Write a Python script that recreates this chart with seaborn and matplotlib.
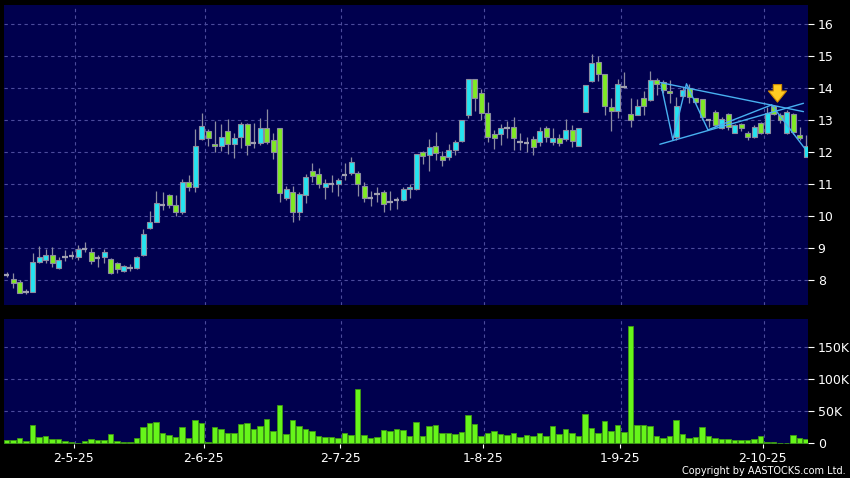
import matplotlib
matplotlib.use("Agg")
import matplotlib.pyplot as plt
import seaborn as sns
import numpy as np

# daily OHLC (one entry per trading day)
opens = [8.18, 8.05, 7.94, 7.65, 7.65, 8.56, 8.63, 8.78, 8.38, 8.73,
         8.77, 8.74, 8.98, 8.88, 8.70, 8.72, 8.66, 8.55, 8.30, 8.40,
         8.38, 8.78, 9.63, 9.83, 10.34, 10.67, 10.35, 10.15, 11.06, 10.90,
         12.40, 12.65, 12.27, 12.19, 12.65, 12.25, 12.47, 12.88, 12.28, 12.28,
         12.77, 12.375, 12.75, 10.58, 10.77, 10.125, 10.67, 11.42, 11.31, 10.90,
         11.00, 11.00, 11.29, 11.34, 11.34, 10.94, 10.58, 10.69, 10.75, 10.46,
         10.51, 10.50, 10.85, 10.85, 12.00, 11.92, 12.20, 11.875, 11.85, 12.06,
         12.35, 13.15, 14.28, 13.84, 13.22, 12.56, 12.58, 12.75, 12.79, 12.32,
         12.30, 12.43, 12.33, 12.77, 12.33, 12.44, 12.43, 12.69, 12.21, 13.27,
         14.24, 14.81, 14.44, 13.42, 13.29, 14.03, 13.19, 13.17, 13.69, 13.625,
         14.25, 14.18, 13.91, 12.49, 13.77, 14.01, 13.69, 13.66, 13.00, 13.27,
         12.75, 13.19, 12.61, 12.875, 12.61, 12.47, 12.90, 12.60, 13.45, 13.15,
         12.60, 13.19, 12.53, 11.86]
highs = [8.25, 8.22, 8.00, 7.72, 8.84, 9.07, 8.97, 9.05, 8.74, 8.95,
         8.93, 9.10, 9.19, 9.00, 8.79, 8.97, 8.69, 8.58, 8.48, 8.50,
         8.76, 9.59, 10.16, 10.79, 10.77, 10.71, 10.67, 11.17, 11.29, 12.73,
         13.23, 12.73, 12.98, 12.88, 13.04, 12.59, 12.94, 12.91, 12.92, 13.06,
         13.35, 12.59, 12.75, 10.95, 10.95, 10.75, 11.31, 11.66, 11.50, 11.17,
         11.29, 11.19, 11.67, 11.85, 11.42, 11.08, 10.79, 10.90, 10.82, 10.79,
         10.60, 10.93, 11.00, 11.94, 12.04, 12.42, 12.625, 12.04, 12.25, 12.385,
         13.00, 14.28, 14.28, 13.98, 13.56, 12.70, 12.875, 12.98, 13.10, 12.59,
         12.49, 12.52, 12.80, 12.83, 12.75, 12.56, 13.04, 12.85, 12.77, 14.10,
         15.06, 15.00, 14.44, 13.71, 14.29, 14.50, 13.69, 13.67, 13.92, 14.54,
         14.31, 14.26, 14.26, 13.74, 14.05, 14.13, 13.70, 13.66, 13.05, 13.32,
         13.11, 13.22, 12.885, 12.93, 12.67, 12.85, 12.95, 13.41, 13.48, 13.22,
         13.32, 13.22, 12.80, 12.54]
lows = [8.09, 7.75, 7.59, 7.56, 7.63, 8.55, 8.55, 8.43, 8.34, 8.61,
        8.67, 8.64, 8.90, 8.51, 8.43, 8.55, 8.20, 8.22, 8.27, 8.30,
        8.36, 8.76, 9.59, 9.81, 10.20, 10.25, 10.00, 10.06, 10.79, 10.77,
        12.38, 12.19, 12.00, 12.04, 11.96, 11.83, 12.13, 11.90, 12.13, 12.23,
        12.25, 11.79, 10.46, 10.51, 9.83, 9.89, 10.41, 11.06, 10.875, 10.54,
        10.75, 10.65, 11.14, 11.29, 10.65, 10.46, 10.33, 10.46, 10.15, 10.20,
        10.23, 10.48, 10.56, 10.83, 11.625, 11.42, 11.76, 11.58, 11.76, 11.92,
        12.33, 13.08, 13.29, 13.01, 12.33, 12.10, 12.23, 12.44, 12.07, 12.07,
        12.00, 11.92, 12.20, 12.33, 12.23, 12.21, 12.35, 12.18, 12.21, 13.27,
        14.21, 14.23, 13.15, 12.67, 13.08, 14.00, 12.80, 13.15, 13.15, 13.60,
        13.79, 13.84, 13.55, 12.39, 13.74, 13.53, 13.55, 13.01, 12.80, 12.80,
        12.72, 12.70, 12.59, 12.68, 12.39, 12.44, 12.57, 12.57, 13.17, 12.90,
        12.57, 12.57, 12.385, 11.84]
closes = [8.18, 7.91, 7.61, 7.65, 8.56, 8.72, 8.78, 8.53, 8.63, 8.73,
          8.77, 8.97, 8.98, 8.59, 8.70, 8.88, 8.22, 8.34, 8.45, 8.40,
          8.73, 9.44, 9.81, 10.43, 10.34, 10.35, 10.15, 11.06, 10.90, 12.19,
          12.83, 12.44, 12.19, 12.49, 12.25, 12.46, 12.88, 12.23, 12.28, 12.77,
          12.31, 12.00, 10.72, 10.84, 10.125, 10.69, 11.23, 11.27, 11.00, 11.03,
          11.00, 11.125, 11.29, 11.71, 11.00, 10.56, 10.58, 10.69, 10.375, 10.46,
          10.51, 10.84, 10.92, 11.94, 11.875, 12.17, 11.97, 11.75, 12.06, 12.33,
          13.00, 14.28, 13.69, 13.22, 12.49, 12.44, 12.75, 12.75, 12.46, 12.32,
          12.30, 12.15, 12.65, 12.49, 12.44, 12.30, 12.69, 12.35, 12.75, 14.10,
          14.78, 14.44, 13.46, 13.28, 14.125, 14.03, 13.00, 13.46, 13.44, 14.25,
          14.125, 13.95, 13.84, 13.46, 13.93, 13.74, 13.56, 13.09, 13.00, 12.85,
          13.04, 12.80, 12.84, 12.75, 12.47, 12.80, 12.60, 13.22, 13.20, 13.01,
          13.27, 12.625, 12.46, 12.21]
# volume in thousands of shares
volumes = [5, 5.6, 8.8, 4.6, 28, 10, 11, 7, 6.7, 4,
           3, 1.5, 4.6, 7, 5.6, 5, 14, 4, 2, 2.5,
           8, 26, 31, 33, 16, 13, 10, 26, 9, 36,
           32, 2, 25, 22, 16, 17, 30, 31, 22, 27,
           38, 19, 59, 15, 36, 27, 22, 20, 11, 10,
           10, 8, 17, 13, 85, 13, 8, 10, 21, 19,
           23, 21, 12, 34, 11, 27, 28, 16, 17, 14,
           18, 44, 30, 11, 17, 19, 14, 13, 17, 10,
           13, 11, 16, 12, 27, 15, 23, 16, 12, 45,
           24, 16, 35, 20, 29, 18, 182, 29, 28, 27,
           12, 9, 11, 37, 14, 9, 10, 25, 11, 8,
           7, 7, 6, 6, 6, 7, 11, 3, 2, 1,
           1.5, 13, 8, 7]
volumes = [v * 1000 for v in volumes]

# month ticks: index of the first trading day of each month
tick_idx = [10, 30, 51, 73, 94, 116]
tick_labels = ["2-5-25", "2-6-25", "2-7-25", "1-8-25", "1-9-25", "2-10-25"]

# hand-drawn trend lines on the chart (day index, price)
trend_lines = [
    ([100.5, 122.6], [14.18, 13.27]),
    ([100.5, 122.6], [12.25, 13.53]),
    ([100.7, 102.5, 104.6, 107.9], [14.10, 12.39, 14.14, 12.70]),
    ([107.9, 117.7], [12.70, 13.48]),
    ([117.7, 122.8], [13.48, 12.12]),
]
arrow_day, arrow_price = 118.6, 13.48

BG = "#00004e"
GRID = "#4b4b9c"
UP = "#25e3f0"
DOWN = "#7fea24"
EDGE = "#8c8ca0"
VOL = "#66f51a"

sns.set_theme(style="dark")
plt.rcParams["font.family"] = ["DejaVu Sans"]

fig = plt.figure(figsize=(8.5, 4.78), dpi=100, facecolor="black")
ax = fig.add_axes([4 / 850, 1 - 305 / 478, 804 / 850, 300 / 478])
axv = fig.add_axes([4 / 850, 1 - 444 / 478, 804 / 850, 125 / 478])

idx = np.arange(len(opens))
o = np.array(opens)
c = np.array(closes)
h = np.array(highs)
l = np.array(lows)

for a in (ax, axv):
    a.set_facecolor(BG)
    for s in a.spines.values():
        s.set_visible(False)
    a.yaxis.tick_right()
    a.tick_params(axis="y", colors="white", labelsize=9, length=4, width=0.8,
                  direction="out", pad=3, right=True, left=False, labelcolor="white")
    a.set_xlim(-0.42, 123.3)
    for t in tick_idx:
        a.axvline(t + 0.5, color=GRID, lw=0.8, ls=(0, (3, 3)), zorder=0)

# wicks
ax.vlines(idx, l, h, color=EDGE, lw=0.9, zorder=2)
# bodies
up = c > o
down = c < o
flat = c == o
ax.bar(idx[up], (c - o)[up], bottom=o[up], width=0.78, color=UP,
       edgecolor=EDGE, linewidth=0.8, zorder=3)
ax.bar(idx[down], (o - c)[down], bottom=c[down], width=0.78, color=DOWN,
       edgecolor=EDGE, linewidth=0.8, zorder=3)
ax.hlines(o[flat], idx[flat] - 0.42, idx[flat] + 0.42, color="#a0a0b0", lw=1.6, zorder=3)

for xs, ys in trend_lines:
    ax.plot(xs, ys, color="#48b0f0", lw=1.0, zorder=4)

ax.annotate("", xy=(arrow_day, arrow_price), xytext=(arrow_day, arrow_price + 0.72),
            arrowprops=dict(arrowstyle="simple,head_length=0.8,head_width=1.3,tail_width=0.6",
                            fc="#ffcc22", ec="#d08a00", lw=0.8, mutation_scale=10),
            zorder=5)

ax.set_ylim(7.23, 16.6)
ax.set_yticks(range(8, 17))
ax.grid(False)
for p in range(8, 17):
    ax.axhline(p, color=GRID, lw=0.8, ls=(0, (3, 3)), zorder=0)
ax.set_xticks([])

sns.barplot(x=idx, y=volumes, native_scale=True, color=VOL, saturation=1,
            width=0.85, edgecolor="#3e9a12", linewidth=0.6, errorbar=None, ax=axv, zorder=3)
axv.set_xlim(-0.42, 123.3)
axv.set_ylim(-800, 193000)
axv.set_yticks([0, 50000, 100000, 150000])
axv.set_yticklabels(["0", "50K", "100K", "150K"])
axv.grid(False)
for v in [50000, 100000, 150000]:
    axv.axhline(v, color=GRID, lw=0.8, ls=(0, (3, 3)), zorder=0)
axv.set_xticks([t + 0.3 for t in tick_idx])
axv.set_xticklabels(tick_labels)
axv.tick_params(axis="x", colors="white", labelsize=9, length=3, width=0.8,
                direction="out", pad=3, bottom=True, labelcolor="white")
axv.set_xlabel("")
axv.set_ylabel("")

fig.text(846 / 850, 1 - 471 / 478, "Copyright by AASTOCKS.com Ltd.", color="white",
         fontsize=7, ha="right", va="center")

fig.savefig("out.png", dpi=100, facecolor="black")
